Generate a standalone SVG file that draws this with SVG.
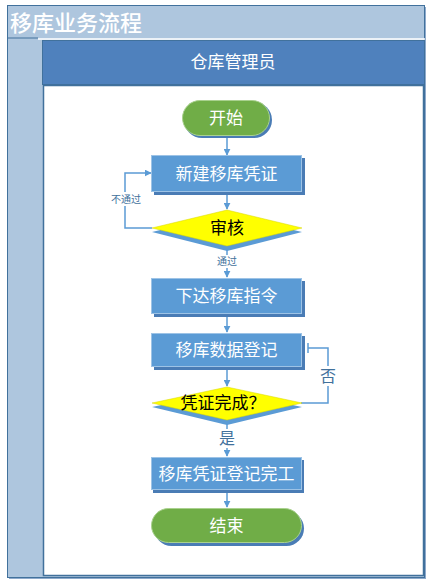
<svg xmlns="http://www.w3.org/2000/svg" width="432" height="584" viewBox="0 0 432 584">
<defs>
<marker id="arr" viewBox="0 0 10 10" refX="9" refY="5" markerWidth="7" markerHeight="7" markerUnits="userSpaceOnUse" orient="auto">
<path d="M0,0 L10,5 L0,10 z" fill="#5b9bd5"/>
</marker>
<marker id="tee" viewBox="0 0 10 10" refX="5" refY="5" markerWidth="10" markerHeight="10" markerUnits="userSpaceOnUse" orient="auto">
<path d="M5,0 L5,10" stroke="#5b9bd5" stroke-width="1.5"/>
</marker>
</defs>
<style>
text{font-family:"Noto Sans CJK SC","Noto Sans",sans-serif;}
.proc{fill:#5b9bd5;stroke:#9dc3e6;stroke-width:1;}
.shadow{fill:#4a7cb5;}
.pill{fill:#70ad47;stroke:#a9d18e;stroke-width:1;}
.dia{fill:#ffff00;stroke:#d6d600;stroke-width:0.5;}
.wt{fill:#ffffff;font-size:17px;text-anchor:middle;}
.bt{fill:#000000;font-size:17px;text-anchor:middle;}
.conn{fill:none;stroke:#5b9bd5;stroke-width:1.5;}
.lbl{fill:#41719c;text-anchor:middle;}
</style>
<g id="frame">
<rect x="9" y="7" width="417" height="572" fill="#8eaacc"/>
<rect x="7.5" y="5.5" width="417" height="572" fill="#aec6de" stroke="#41719c" stroke-width="1"/>
<text x="10" y="31" fill="#ffffff" font-size="22" font-weight="500">移库业务流程</text>
<line x1="38" y1="39" x2="425" y2="39" stroke="#ffffff" stroke-width="1.5"/>
<line x1="8" y1="38" x2="38" y2="38" stroke="#41719c" stroke-width="1"/>
<rect x="42.5" y="40.5" width="382" height="44" fill="#4f81bd" stroke="#41719c" stroke-width="1"/>
<text x="233" y="68" class="wt" font-size="17">仓库管理员</text>
<rect x="43.5" y="85.5" width="380" height="490" fill="#ffffff" stroke="#41719c" stroke-width="1.5"/>
</g>
<g id="connectors">
<line class="conn" x1="227" y1="137" x2="227" y2="155" marker-end="url(#arr)"/>
<line class="conn" x1="227" y1="193" x2="227" y2="209" marker-end="url(#arr)"/>
<line class="conn" x1="227" y1="249" x2="227" y2="277" marker-end="url(#arr)"/>
<line class="conn" x1="227" y1="315" x2="227" y2="332" marker-end="url(#arr)"/>
<line class="conn" x1="227" y1="368" x2="227" y2="386" marker-end="url(#arr)"/>
<line class="conn" x1="227" y1="424" x2="227" y2="456" marker-end="url(#arr)"/>
<line class="conn" x1="227" y1="492" x2="227" y2="507" marker-end="url(#arr)"/>
<polyline class="conn" points="152,228 125,228 125,173 151,173" marker-end="url(#arr)"/>
<polyline class="conn" points="301,403 328,403 328,348 308,348" marker-end="url(#tee)"/>
<rect x="108" y="192" width="36" height="14" fill="#ffffff"/>
<text x="126" y="203" class="lbl" font-size="10">不通过</text>
<rect x="214" y="255" width="26" height="13" fill="#ffffff"/>
<text x="227" y="265" class="lbl" font-size="10">通过</text>
<rect x="318" y="366" width="20" height="20" fill="#ffffff"/>
<text x="328" y="382" class="lbl" font-size="16">否</text>
<rect x="218" y="429" width="18" height="19" fill="#ffffff"/>
<text x="227" y="444" class="lbl" font-size="16">是</text>
</g>
<g id="start">
<rect x="184" y="102" width="88" height="36" rx="18" class="shadow"/>
<rect x="182.5" y="100.5" width="87" height="35" rx="17.5" class="pill"/>
<text x="226" y="124" class="wt">开始</text>
</g>
<g id="n1">
<rect x="154" y="158" width="151" height="37" class="shadow"/>
<rect x="151.5" y="155.5" width="150" height="36" class="proc"/>
<text x="226.5" y="180" class="wt">新建移库凭证</text>
</g>
<g id="d1">
<polygon points="152,232 227,214 302,232 227,251" fill="#5b9bd5"/>
<polygon points="152,228 227,210 302,228 227,246" class="dia"/>
<text x="227" y="234" class="bt" font-size="18">审核</text>
</g>
<g id="n2">
<rect x="154" y="281" width="151" height="36" class="shadow"/>
<rect x="151.5" y="278.5" width="150" height="35" class="proc"/>
<text x="226.5" y="302" class="wt">下达移库指令</text>
</g>
<g id="n3">
<rect x="154" y="336" width="151" height="34" class="shadow"/>
<rect x="151.5" y="333.5" width="150" height="33" class="proc"/>
<text x="226.5" y="356" class="wt">移库数据登记</text>
</g>
<g id="d2">
<polygon points="152,407 227,391 302,407 227,425" fill="#5b9bd5"/>
<polygon points="152,403 227,387 302,403 227,420" class="dia"/>
<text x="223" y="409" class="bt" font-size="16">凭证完成？</text>
</g>
<g id="n4">
<rect x="153" y="460" width="151" height="33" class="shadow"/>
<rect x="151.5" y="457.5" width="150" height="32" class="proc"/>
<text x="226.5" y="480" class="wt">移库凭证登记完工</text>
</g>
<g id="end">
<rect x="154" y="511" width="150" height="35" rx="17.5" class="shadow"/>
<rect x="151.5" y="508.5" width="150" height="34" rx="17" class="pill"/>
<text x="226.5" y="532" class="wt">结束</text>
</g>
</svg>
